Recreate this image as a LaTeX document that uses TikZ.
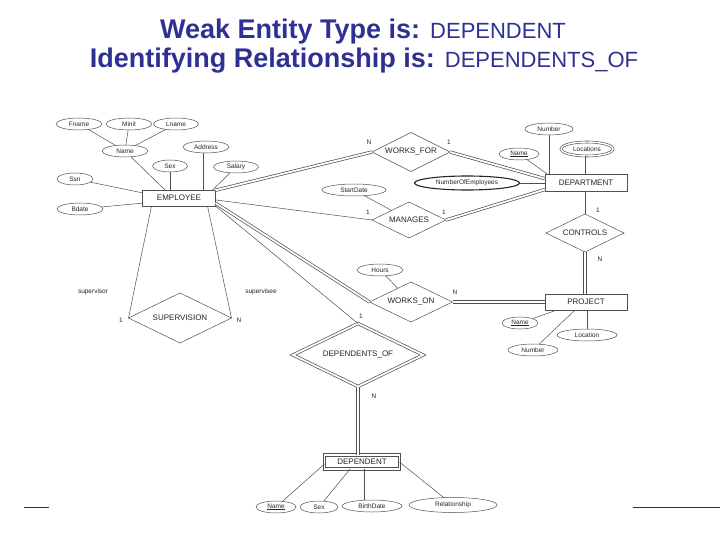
\documentclass[tikz,border=0pt]{standalone}
\usepackage{fontspec}
\setmainfont{Liberation Sans}
\usetikzlibrary{shapes.geometric,calc}
\definecolor{titleblue}{RGB}{46,49,146}
\definecolor{ink}{RGB}{80,80,80}
\begin{document}
\begin{tikzpicture}[x=1pt,y=-1pt,
  every node/.style={inner sep=0pt, outer sep=0pt},
  ent/.style={draw=ink, line width=0.5pt, rectangle, minimum height=16pt, font=\fontsize{8}{9}\selectfont, text=black!85},
  attr/.style={draw=ink, line width=0.5pt, ellipse, minimum height=12pt, font=\fontsize{6.5}{7}\selectfont, text=black!85},
  rel/.style={draw=ink, line width=0.5pt, diamond, aspect=2.2, font=\fontsize{8}{9}\selectfont, text=black!85},
  lbl/.style={font=\fontsize{6.5}{7}\selectfont, text=black!85},
  con/.style={draw=ink, line width=0.5pt},
  dbl/.style={draw=ink, line width=0.7pt, double=white, double distance=1.8pt},
  ttl/.style={font=\fontsize{27}{30}\selectfont\bfseries, text=titleblue, anchor=base}]
\fill[white] (0,0) rectangle (720,540);
\useasboundingbox (0,0) rectangle (720,540);

% title
\node[ttl] (t1) at (363,39) {Weak Entity Type is: {\mdseries\fontsize{22}{24}\selectfont DEPENDENT}};
\node[ttl] (t2) at (364,68) {Identifying Relationship is: {\mdseries\fontsize{22}{24}\selectfont DEPENDENTS\_OF}};

% entities
\node[ent, minimum width=73pt] (emp) at (179,198) {EMPLOYEE};
\node[ent, minimum width=82pt, minimum height=17pt] (dept) at (586,183) {DEPARTMENT};
\node[ent, minimum width=82pt] (proj) at (586,302) {PROJECT};
\node[ent, minimum width=75pt, minimum height=14pt, line width=0.7pt, double=white, double distance=1.8pt] (dep) at (362,462) {DEPENDENT};

% relationships
\node[rel, minimum width=78pt, minimum height=39pt] (wf) at (411,152) {WORKS\_FOR};
\node[rel, minimum width=74pt, minimum height=36pt] (mg) at (409,220) {MANAGES};
\node[rel, minimum width=78pt, minimum height=38pt] (ctrl) at (585,233) {CONTROLS};
\node[rel, minimum width=83pt, minimum height=40pt] (wo) at (411,302) {WORKS\_ON};
\node[rel, minimum width=130pt, minimum height=63pt, line width=0.7pt, double=white, double distance=1.8pt] (dof) at (358,355) {DEPENDENTS\_OF};
\node[rel, minimum width=103pt, minimum height=50pt] (sup) at (180,318) {SUPERVISION};

% employee attributes
\node[attr, minimum width=46pt] (fname) at (79,124) {Fname};
\node[attr, minimum width=46pt] (minit) at (129,124) {Minit};
\node[attr, minimum width=45pt] (lname) at (176,124) {Lname};
\node[attr, minimum width=46pt] (ename) at (125,151) {Name};
\node[attr, minimum width=46pt] (addr) at (206,147) {Address};
\node[attr, minimum width=35pt] (esex) at (170,166) {Sex};
\node[attr, minimum width=45pt] (sal) at (236,167) {Salary};
\node[attr, minimum width=36pt] (ssn) at (75,179) {Ssn};
\node[attr, minimum width=46pt] (bdate) at (80,209) {Bdate};

% department attributes
\node[attr, minimum width=48pt] (dnum) at (549,129) {Number};
\node[attr, minimum width=40pt] (dname) at (519,154) {\underline{Name}};
\node[attr, minimum width=52pt, minimum height=14pt, line width=0.6pt, double=white, double distance=1.4pt] (loc) at (587,149) {Locations};
\node[attr, minimum width=105pt, minimum height=14pt, line width=1.1pt, draw=black!85] (noe) at (467,183) {NumberOfEmployees};
\node[attr, minimum width=64pt] (sd) at (354,190) {StartDate};

% project attributes
\node[attr, minimum width=46pt] (hours) at (380,270) {Hours};
\node[attr, minimum width=36pt] (pname) at (520,323) {\underline{Name}};
\node[attr, minimum width=60pt] (ploc) at (587,335) {Location};
\node[attr, minimum width=50pt] (pnum) at (533,350) {Number};

% dependent attributes
\node[attr, minimum width=40pt] (dpname) at (276,507) {\underline{Name}};
\node[attr, minimum width=38pt] (dpsex) at (319,507) {Sex};
\node[attr, minimum width=60pt] (dpbd) at (372,506) {BirthDate};
\node[attr, minimum width=88pt, minimum height=15pt] (dprel) at (453,505) {Relationship};

% attribute connectors
\draw[con] (fname) -- (ename);
\draw[con] (minit) -- (ename);
\draw[con] (lname) -- (ename);
\draw[con] (ename) -- ([xshift=-14pt]emp.north);
\draw[con] (esex.south) -- (esex.south |- emp.north);
\draw[con] ([xshift=-3pt]addr.south) -- ([xshift=-3pt]addr.south |- emp.north);
\draw[con] (sal) -- ([xshift=-3pt]emp.north east);
\draw[con] (ssn) -- (emp.172);
\draw[con] (bdate) -- (emp.188);

\draw[con] (dnum.south) -- (dnum.south |- dept.north);
\draw[con] (dname) -- ([xshift=3pt]dept.north west);
\draw[con] ([xshift=-2pt]loc.south) -- ([xshift=-2pt]loc.south |- dept.north);
\draw[con] (noe) -- (noe -| dept.west);
\draw[con] (sd) -- (mg);
\draw[con] (hours) -- (wo);

\draw[con] (pname) -- ([xshift=12pt]proj.south west);
\draw[con] (ploc.north) -- (ploc.north |- proj.south);
\draw[con] (pnum) -- ([xshift=-11pt]proj.south);

\draw[con] (dpname) -- ([yshift=-2pt]dep.west);
\draw[con] (dpsex) -- ([xshift=-12pt]dep.south);
\draw[con] ([xshift=-8pt]dpbd.north) -- ([xshift=-8pt]dpbd.north |- dep.south);
\draw[con] (dprel) -- (dep.east);

% relationship connectors
\draw[dbl] (emp.12) -- (wf.west);
\draw[dbl] (wf.east) -- (dept.174);
\draw[con] (emp.-3) -- (mg.west);
\draw[dbl] (mg.east) -- (dept.189);
\draw[con] (ctrl.north |- dept.south) -- (ctrl.north);
\draw[dbl] (ctrl.south) -- (ctrl.south |- proj.north);
\draw[dbl] (emp.-8) -- (wo.west);
\draw[dbl] (wo.east) -- (wo.east -| proj.west);
\draw[con] (emp.south east) -- (dof.north);
\draw[dbl] (dof.south) -- (dof.south |- dep.north);
\draw[con] ([xshift=9pt]emp.south west) -- (sup.west);
\draw[con] ([xshift=-8pt]emp.south east) -- (sup.east);

% cardinality labels
\node[lbl] (n1) at (369,142) {N};
\node[lbl] (n2) at (449,142) {1};
\node[lbl] (n3) at (368,212) {1};
\node[lbl] (n4) at (444,212) {1};
\node[lbl] (n5) at (598,210) {1};
\node[lbl] (n6) at (600,259) {N};
\node[lbl] (n7) at (455,292) {N};
\node[lbl] (n8) at (361,316) {1};
\node[lbl] (n9) at (374,396) {N};
\node[lbl] (n10) at (121,320) {1};
\node[lbl] (n11) at (239,320) {N};
\node[lbl] (r1) at (93,292) {supervisor};
\node[lbl] (r2) at (261,292) {supervisee};

% bottom rules
\coordinate (la) at (24,507);
\coordinate (lb) at (49,507);
\coordinate (ra) at (633,507);
\coordinate (rb) at (720,507);
\draw[line width=0.9pt, black!80] (la) -- (lb);
\draw[line width=0.9pt, black!80] (ra) -- (rb);
\end{tikzpicture}
\end{document}
